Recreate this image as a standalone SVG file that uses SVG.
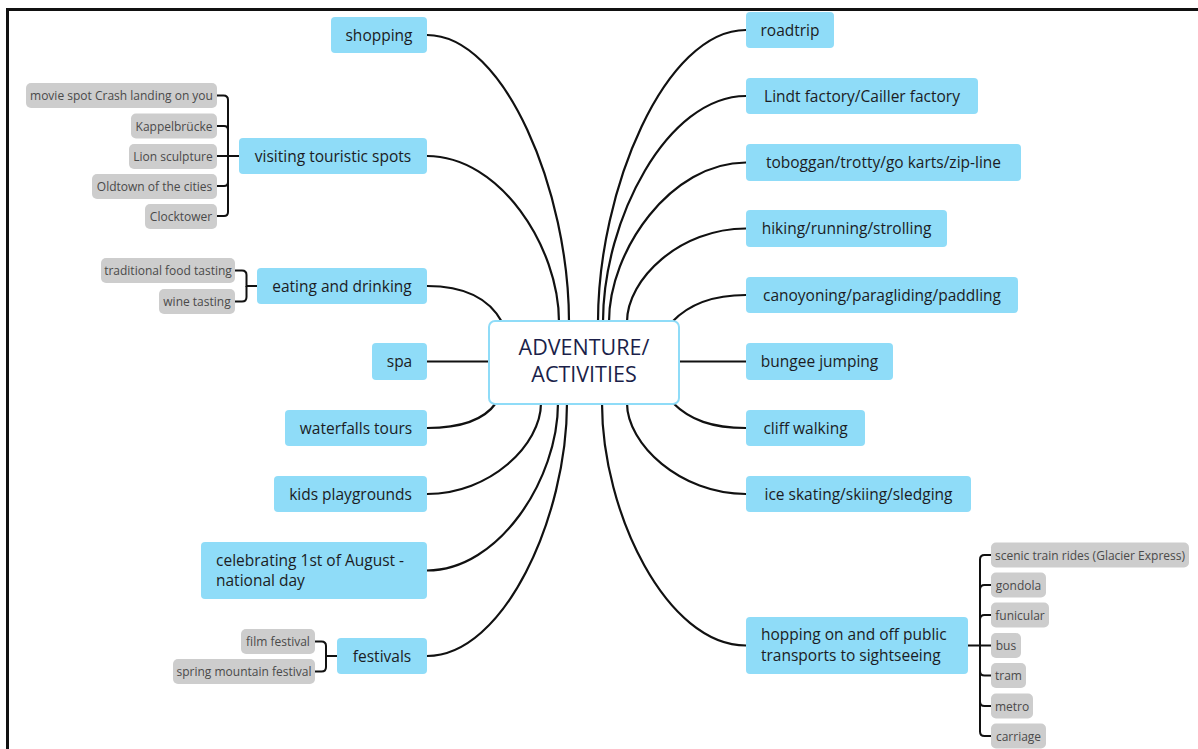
<svg xmlns="http://www.w3.org/2000/svg" width="1198" height="749" viewBox="0 0 1198 749">
  <style>
    .frame { fill: none; stroke: #111; stroke-width: 3; }
    .link { fill: none; stroke: #111; stroke-width: 2.2; stroke-linecap: round; }
    .sub { fill: none; stroke: #111; stroke-width: 2; }
    .topic rect { fill: #8fdcf8; }
    .topic text { font-family: "Open Sans", "Liberation Sans", sans-serif; font-size: 15.5px; fill: #1c1c24; }
    .leaf rect { fill: #cdcdcd; }
    .leaf text { font-family: "Open Sans", "Liberation Sans", sans-serif; font-size: 12px; fill: #4a4a4a; text-anchor: middle; }
    .mid { text-anchor: middle; }
    .root rect { fill: #ffffff; stroke: #8fdcf8; stroke-width: 2; }
    .root text { font-family: "Open Sans", "Liberation Sans", sans-serif; font-size: 21.5px; fill: #1b1f4a; text-anchor: middle; }
  </style>

  <rect width="1198" height="749" fill="#ffffff"/>
  <path class="frame" d="M7.5,749 V9.5 H1198"/>

  <!-- connectors -->
  <g id="connectors">
    <!-- main branches, left -->
    <path class="link" d="M427,35 C505,35 569,192 569,322"/>
    <path class="link" d="M427,156 C500,156 559,247 559,322"/>
    <path class="link" d="M427,286 C468,286 490,300 502,322"/>
    <path class="link" d="M427,361.5 H490"/>
    <path class="link" d="M427,428 C462,428 484,420 496,403"/>
    <path class="link" d="M427,494 C490,494 541,445 541,403"/>
    <path class="link" d="M427,570.5 C499,570.5 558,479 558,403"/>
    <path class="link" d="M427,656 C504,656 567,517 567,403"/>
    <!-- main branches, right -->
    <path class="link" d="M746,30 C665,30 598,190 598,322"/>
    <path class="link" d="M746,96 C667,96 603,220 603,322"/>
    <path class="link" d="M746,162.5 C671,162.5 609,250 609,322"/>
    <path class="link" d="M746,228.5 C680,228.5 627,279 627,322"/>
    <path class="link" d="M746,295 C712,295 688,305 672,322"/>
    <path class="link" d="M678,361.5 H746"/>
    <path class="link" d="M746,428 C712,428 690,420 673,403"/>
    <path class="link" d="M746,494 C680,494 627,444 627,403"/>
    <path class="link" d="M746,645.5 C667,645.5 602,513 602,403"/>

    <!-- sub-branches: touristic spots -->
    <path class="sub" d="M239,156 H228 V100 Q228,95.5 223.5,95.5 H217"/>
    <path class="sub" d="M228,156 V130 Q228,126 224,126 H217"/>
    <path class="sub" d="M239,156 H217"/>
    <path class="sub" d="M228,156 V182 Q228,186 224,186 H217"/>
    <path class="sub" d="M228,156 V212 Q228,216 224,216 H217"/>
    <!-- sub-branches: eating and drinking -->
    <path class="sub" d="M257,286 H246.5 V275 Q246.5,270.5 242,270.5 H235"/>
    <path class="sub" d="M246.5,286 V297 Q246.5,301.5 242,301.5 H235"/>
    <!-- sub-branches: festivals -->
    <path class="sub" d="M337,656 H326 V646 Q326,641.5 321.5,641.5 H315"/>
    <path class="sub" d="M326,656 V667 Q326,671.5 321.5,671.5 H315"/>
    <!-- sub-branches: public transport -->
    <path class="sub" d="M968,645.5 H980 V559.5 Q980,555 984.5,555 H991"/>
    <path class="sub" d="M980,600 V589.5 Q980,585 984.5,585 H991"/>
    <path class="sub" d="M980,630 V619.5 Q980,615 984.5,615 H991"/>
    <path class="sub" d="M980,645.5 H991"/>
    <path class="sub" d="M980,645.5 V671 Q980,675.5 984.5,675.5 H991"/>
    <path class="sub" d="M980,690 V701.5 Q980,706 984.5,706 H991"/>
    <path class="sub" d="M980,645.5 V731.5 Q980,736 984.5,736 H991"/>
  </g>

  <!-- central topic -->
  <g id="root" class="root">
    <rect x="489" y="321" width="190" height="83" rx="6"/>
    <text x="584" y="355">ADVENTURE/</text>
    <text x="584" y="382">ACTIVITIES</text>
  </g>

  <!-- left topics -->
  <g id="shopping" class="topic">
    <rect x="331" y="17" width="96" height="36" rx="4"/>
    <text class="mid" x="379" y="40.5">shopping</text>
  </g>
  <g id="touristic-spots" class="topic">
    <rect x="239" y="138" width="188" height="36" rx="4"/>
    <text class="mid" x="333" y="161.5">visiting touristic spots</text>
  </g>
  <g id="eating" class="topic">
    <rect x="257" y="268" width="170" height="36" rx="4"/>
    <text class="mid" x="342" y="291.5">eating and drinking</text>
  </g>
  <g id="spa" class="topic">
    <rect x="372" y="343" width="55" height="37" rx="4"/>
    <text class="mid" x="399.5" y="367">spa</text>
  </g>
  <g id="waterfalls" class="topic">
    <rect x="285" y="410" width="142" height="36" rx="4"/>
    <text class="mid" x="356" y="433.5">waterfalls tours</text>
  </g>
  <g id="playgrounds" class="topic">
    <rect x="274" y="476" width="153" height="36" rx="4"/>
    <text class="mid" x="350.5" y="499.5">kids playgrounds</text>
  </g>
  <g id="national-day" class="topic">
    <rect x="201" y="542" width="226" height="57" rx="4"/>
    <text x="216" y="566">celebrating 1st of August -</text>
    <text x="216" y="586">national day</text>
  </g>
  <g id="festivals" class="topic">
    <rect x="337" y="638" width="90" height="36" rx="4"/>
    <text class="mid" x="382" y="661.5">festivals</text>
  </g>

  <!-- right topics -->
  <g id="roadtrip" class="topic">
    <rect x="746" y="12" width="88" height="36" rx="4"/>
    <text class="mid" x="790" y="35.5">roadtrip</text>
  </g>
  <g id="chocolate" class="topic">
    <rect x="746" y="78" width="232" height="36" rx="4"/>
    <text class="mid" x="862" y="101.5">Lindt factory/Cailler factory</text>
  </g>
  <g id="toboggan" class="topic">
    <rect x="746" y="144" width="275" height="37" rx="4"/>
    <text class="mid" x="883.5" y="168">toboggan/trotty/go karts/zip-line</text>
  </g>
  <g id="hiking" class="topic">
    <rect x="746" y="210" width="201" height="37" rx="4"/>
    <text class="mid" x="846.5" y="234">hiking/running/strolling</text>
  </g>
  <g id="canyoning" class="topic">
    <rect x="746" y="277" width="272" height="36" rx="4"/>
    <text class="mid" x="882" y="300.5">canoyoning/paragliding/paddling</text>
  </g>
  <g id="bungee" class="topic">
    <rect x="746" y="343" width="147" height="37" rx="4"/>
    <text class="mid" x="819.5" y="367">bungee jumping</text>
  </g>
  <g id="cliff" class="topic">
    <rect x="746" y="410" width="119" height="36" rx="4"/>
    <text class="mid" x="805.5" y="433.5">cliff walking</text>
  </g>
  <g id="winter" class="topic">
    <rect x="746" y="476" width="225" height="36" rx="4"/>
    <text class="mid" x="858.5" y="499.5">ice skating/skiing/sledging</text>
  </g>
  <g id="transport" class="topic">
    <rect x="746" y="617" width="222" height="57" rx="4"/>
    <text x="761" y="640">hopping on and off public</text>
    <text x="761" y="661">transports to sightseeing</text>
  </g>

  <!-- leaves: touristic spots -->
  <g id="movie-spot" class="leaf">
    <rect x="26" y="83" width="191" height="25" rx="5"/>
    <text x="121.5" y="100">movie spot Crash landing on you</text>
  </g>
  <g id="kappelbruecke" class="leaf">
    <rect x="131" y="113.5" width="86" height="25" rx="5"/>
    <text x="174" y="130.5">Kappelbrücke</text>
  </g>
  <g id="lion" class="leaf">
    <rect x="129" y="144" width="88" height="25" rx="5"/>
    <text x="173" y="161">Lion sculpture</text>
  </g>
  <g id="oldtown" class="leaf">
    <rect x="92" y="174" width="125" height="25" rx="5"/>
    <text x="154.5" y="191">Oldtown of the cities</text>
  </g>
  <g id="clocktower" class="leaf">
    <rect x="145" y="204" width="72" height="25" rx="5"/>
    <text x="181" y="221">Clocktower</text>
  </g>

  <!-- leaves: eating and drinking -->
  <g id="food-tasting" class="leaf">
    <rect x="101" y="258" width="134" height="25" rx="5"/>
    <text x="168" y="275">traditional food tasting</text>
  </g>
  <g id="wine-tasting" class="leaf">
    <rect x="159" y="289" width="76" height="25" rx="5"/>
    <text x="197" y="306">wine tasting</text>
  </g>

  <!-- leaves: festivals -->
  <g id="film-festival" class="leaf">
    <rect x="241" y="629" width="74" height="25" rx="5"/>
    <text x="278" y="646">film festival</text>
  </g>
  <g id="mountain-festival" class="leaf">
    <rect x="173" y="659" width="142" height="25" rx="5"/>
    <text x="244" y="676">spring mountain festival</text>
  </g>

  <!-- leaves: public transport -->
  <g id="scenic-train" class="leaf">
    <rect x="991" y="542.5" width="198" height="25" rx="5"/>
    <text x="1090" y="559.5">scenic train rides (Glacier Express)</text>
  </g>
  <g id="gondola" class="leaf">
    <rect x="991" y="572.5" width="55" height="25" rx="5"/>
    <text x="1018.5" y="589.5">gondola</text>
  </g>
  <g id="funicular" class="leaf">
    <rect x="991" y="602.5" width="58" height="25" rx="5"/>
    <text x="1020" y="619.5">funicular</text>
  </g>
  <g id="bus" class="leaf">
    <rect x="991" y="633" width="30" height="25" rx="5"/>
    <text x="1006" y="650">bus</text>
  </g>
  <g id="tram" class="leaf">
    <rect x="991" y="663" width="35" height="25" rx="5"/>
    <text x="1008.5" y="680">tram</text>
  </g>
  <g id="metro" class="leaf">
    <rect x="991" y="693.5" width="42" height="25" rx="5"/>
    <text x="1012" y="710.5">metro</text>
  </g>
  <g id="carriage" class="leaf">
    <rect x="991" y="723.5" width="55" height="25" rx="5"/>
    <text x="1018.5" y="740.5">carriage</text>
  </g>
</svg>
